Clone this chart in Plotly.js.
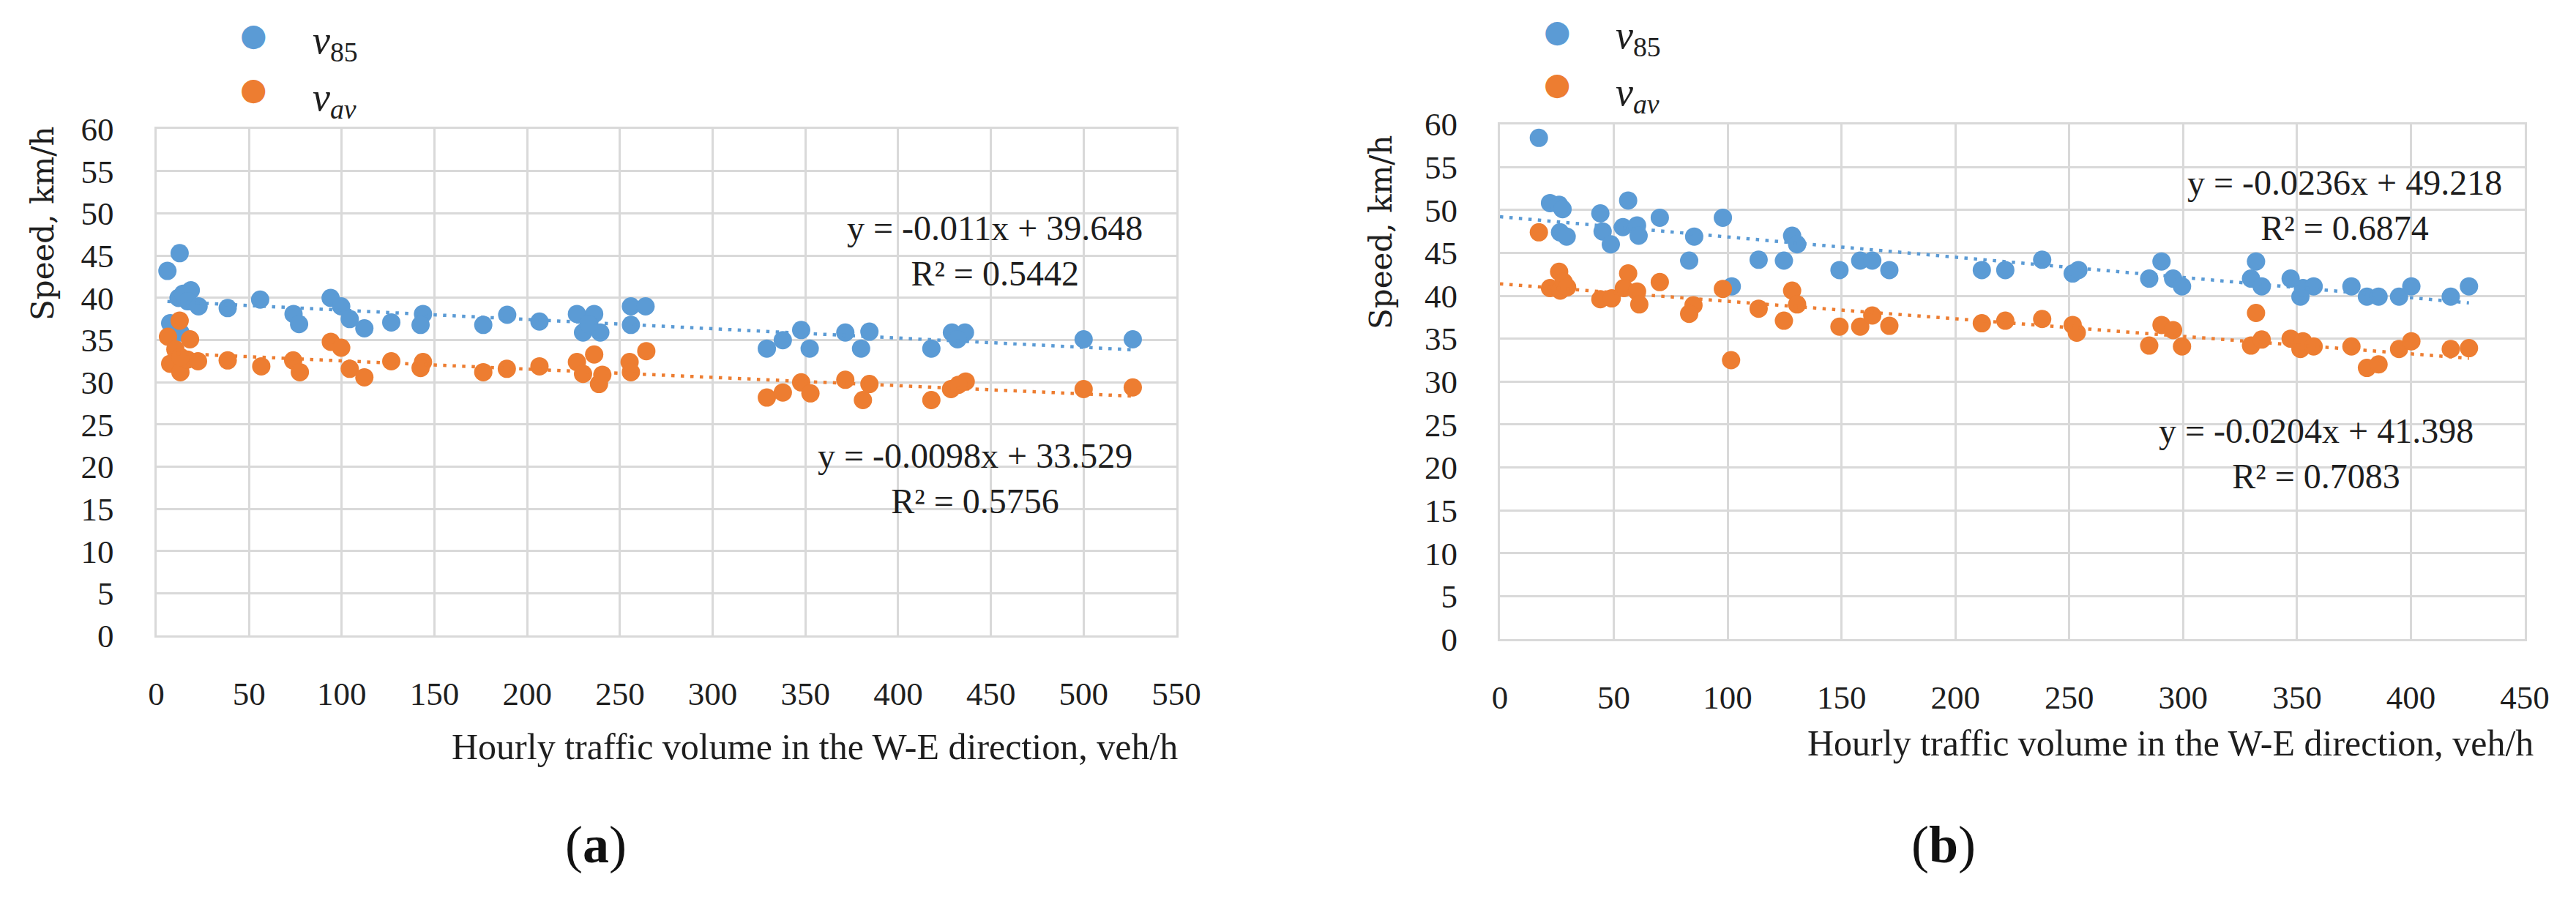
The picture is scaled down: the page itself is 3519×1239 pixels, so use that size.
<!DOCTYPE html>
<html>
<head>
<meta charset="utf-8">
<script src="https://cdn.plot.ly/plotly-3.0.1.min.js"></script>
<style>
  html, body { margin: 0; padding: 0; background: #fff; }
  #chart { width: 3519px; height: 1239px; }
</style>
</head>
<body>
<div id="chart"></div>
<script>
// (a) hourly volume W-E vs speed
const aV85X = [6, 12.6, 7.5, 13, 12, 14.5, 18.6, 17, 22.8, 38.5, 56, 74, 77, 94, 99.7, 104.3, 112.2, 126.7, 143.8, 142.5,
  176.3, 189.2, 206.6, 226.8, 236.1, 230.1, 239.4, 233, 255.9, 263.8, 255.9, 329.2, 337.8, 347.7, 352.3, 371.5, 380, 384.5,
  417.9, 429, 436, 432, 500, 526.5];
const aV85Y = [43.2, 45.3, 37.0, 35.9, 40.0, 40.5, 40.9, 39.6, 39.0, 38.8, 39.8, 38.1, 36.9, 40.0, 39.0, 37.5, 36.4, 37.1, 38.1, 36.8,
  36.8, 38.0, 37.2, 38.1, 38.1, 35.9, 35.9, 36.9, 39.0, 39.0, 36.8, 34.0, 35.0, 36.2, 34.0, 35.9, 34.0, 36.0,
  34.0, 35.9, 35.9, 35.1, 35.1, 35.1];
const aVavX = [6.3, 12.6, 18.2, 7.5, 13, 16.8, 22.5, 10.3, 13, 38.5, 56.6, 73.8, 77.4, 94.1, 99.7, 104.3, 112.2, 126.7, 143.8, 142.5,
  176.3, 189, 206.6, 226.8, 236.1, 230.1, 238.7, 240.5, 255.2, 264.2, 255.9, 329.2, 337.8, 347.7, 352.7, 371.5, 381, 384.5,
  417.9, 428.5, 436.4, 432.5, 500, 526.5];
const aVavY = [35.4, 37.3, 35.1, 32.2, 31.2, 32.7, 32.5, 33.9, 33.0, 32.6, 31.9, 32.6, 31.2, 34.8, 34.1, 31.6, 30.6, 32.5, 32.4, 31.7,
  31.2, 31.6, 31.9, 32.4, 33.3, 31.0, 29.8, 30.9, 32.4, 33.7, 31.2, 28.2, 28.8, 30.0, 28.7, 30.3, 27.9, 29.8,
  27.9, 29.2, 30.1, 29.7, 29.2, 29.4];

// (b)
const bV85X = [17.1, 22, 26, 27.5, 26.4, 29.3, 44.1, 45.1, 48.7, 54, 56.3, 60.2, 60.9, 70.2, 85.3, 83.1, 97.9, 101.8, 113.6, 124.7,
  128.3, 130.5, 149.1, 158.2, 163.5, 171, 211.6, 221.9, 238.1, 251.5, 254, 285.1, 290.5, 295.6, 299.5, 329.8, 332, 334.5,
  347.2, 351.5, 352.6, 357.3, 373.9, 380.7, 385.8, 394.8, 400.2, 417.5, 425.5];
const bV85Y = [58.4, 50.8, 50.6, 50.1, 47.4, 46.9, 49.6, 47.5, 46.0, 48.0, 51.1, 48.2, 47.0, 49.1, 46.9, 44.1, 49.1, 41.1, 44.2, 44.1,
  47.0, 46.0, 43.0, 44.1, 44.1, 43.0, 43.0, 43.0, 44.2, 42.6, 43.0, 42.0, 44.0, 42.0, 41.1, 42.0, 44.0, 41.1,
  42.0, 39.9, 40.9, 41.1, 41.1, 39.9, 39.9, 39.9, 41.1, 39.9, 41.1];
const bVavX = [17.1, 22, 26, 26.5, 28, 29.5, 44.1, 49.1, 56.3, 54.4, 60.2, 61.2, 70.2, 85, 83.1, 97.9, 101.5, 113.6, 124.7,
  128.3, 130.5, 149.1, 158.2, 163.5, 171, 211.6, 221.9, 238.1, 251.5, 253.3, 285.1, 290.5, 295.6, 299.5, 329.8, 332, 334.5,
  347.2, 351.5, 352.6, 357.3, 373.9, 380.7, 385.8, 394.8, 400.2, 417.5, 425.5];
const bVavY = [47.4, 40.9, 42.8, 40.6, 41.6, 41.0, 39.6, 39.7, 42.6, 40.9, 40.5, 39.0, 41.6, 38.9, 37.9, 40.8, 32.5, 38.5, 37.1,
  40.6, 39.0, 36.4, 36.4, 37.7, 36.5, 36.8, 37.1, 37.3, 36.6, 35.7, 34.2, 36.6, 36.0, 34.1, 34.2, 38.0, 34.9,
  35.0, 33.8, 34.7, 34.1, 34.1, 31.6, 32.0, 33.8, 34.7, 33.8, 33.9];

// linear trends (slope, intercept) and x span of the trend lines
const aTrendV85 = [-0.011, 39.648];
const aTrendVav = [-0.0098, 33.529];
const bTrendV85 = [-0.0236, 49.218];
const bTrendVav = [-0.0204, 41.398];
const aTrendSpan = [6, 526.5];
const bTrendSpan = [0, 425.5];

const aEqV85 = 'y = -0.011x + 39.648<br>R² = 0.5442';
const aEqVav = 'y = -0.0098x + 33.529<br>R² = 0.5756';
const bEqV85 = 'y = -0.0236x + 49.218<br>R² = 0.6874';
const bEqVav = 'y = -0.0204x + 41.398<br>R² = 0.7083';

const xTitle = 'Hourly traffic volume in the W-E direction, veh/h';
const yTitle = 'Speed, km/h';

const blue = '#5b9bd5';
const orange = '#ed7d31';
const W = 3519, H = 1239;
const serif = 'Liberation Serif';

// pixel -> paper helpers
const px = x => x / W;
const py = y => 1 - y / H;

function points(x, y, color, xa, ya) {
  return { x, y, xaxis: xa, yaxis: ya, type: 'scatter', mode: 'markers',
    marker: { color, size: 25, line: { width: 0 } }, hoverinfo: 'x+y' };
}

function trend(coef, span, color, xa, ya) {
  const xs = span.slice();
  const ys = xs.map(v => coef[0] * v + coef[1]);
  return { x: xs, y: ys, xaxis: xa, yaxis: ya, type: 'scatter', mode: 'lines',
    line: { color, width: 4.5, dash: '4.5px,8.5px' }, hoverinfo: 'skip' };
}

const data = [
  points(aV85X, aV85Y, blue, 'x', 'y'),
  points(aVavX, aVavY, orange, 'x', 'y'),
  trend(aTrendV85, aTrendSpan, blue, 'x', 'y'),
  trend(aTrendVav, aTrendSpan, orange, 'x', 'y'),
  points(bV85X, bV85Y, blue, 'x2', 'y2'),
  points(bVavX, bVavY, orange, 'x2', 'y2'),
  trend(bTrendV85, bTrendSpan, blue, 'x2', 'y2'),
  trend(bTrendVav, bTrendSpan, orange, 'x2', 'y2'),
];

const grid = '#d9d9d9';
function axis(extra) {
  return Object.assign({
    showgrid: true, gridcolor: grid, gridwidth: 3,
    zeroline: false, showline: true, linecolor: grid, linewidth: 3, mirror: true,
    ticks: '', tickfont: { family: serif, size: 45, color: '#1e1e1e' },
    fixedrange: true,
  }, extra);
}

function text(t, x, y, opts) {
  return Object.assign({ text: t, x, y, xref: 'paper', yref: 'paper', showarrow: false,
    xanchor: 'center', yanchor: 'middle', font: { family: serif, size: 50, color: '#1e1e1e' } }, opts || {});
}

const eqFont = { family: serif, size: 48, color: '#1e1e1e' };
const yTitleFont = { family: 'DejaVu Serif', size: 42, color: '#1e1e1e' };
const dotFont = c => ({ family: 'DejaVu Sans', size: 42, color: c });
const legFont = { family: serif, size: 54, color: '#1e1e1e' };
const panelFont = { family: serif, size: 72, color: '#111' };

const annotations = [
  // trend equations
  text(aEqV85, 452, 45.6, { xref: 'x', yref: 'y', font: eqFont }),
  text(aEqVav, 441.6, 18.6, { xref: 'x', yref: 'y', font: eqFont }),
  text(bEqV85, 371, 50.5, { xref: 'x2', yref: 'y2', font: eqFont }),
  text(bEqVav, 358.5, 21.6, { xref: 'x2', yref: 'y2', font: eqFont }),
  // axis titles
  text(xTitle, px(1611), py(1020), { xanchor: 'right' }),
  text(xTitle, px(3463), py(1015), { xanchor: 'right' }),
  text(yTitle, px(58), py(306), { textangle: -90, font: yTitleFont }),
  text(yTitle, px(1886), py(318), { textangle: -90, font: yTitleFont }),
  // panel labels
  text('(<b>a</b>)', px(814), py(1154), { font: panelFont }),
  text('(<b>b</b>)', px(2655), py(1154), { font: panelFont }),
  // legends
  text('●', px(346), py(48), { font: dotFont(blue) }),
  text('●', px(346), py(121), { font: dotFont(orange) }),
  text('<i>v</i><sub>85</sub>', px(425), py(58), { xanchor: 'left', font: legFont }),
  text('<i>v<sub>av</sub></i>', px(425), py(136), { xanchor: 'left', font: legFont }),
  text('●', px(2127), py(42), { font: dotFont(blue) }),
  text('●', px(2127), py(115), { font: dotFont(orange) }),
  text('<i>v</i><sub>85</sub>', px(2205), py(52), { xanchor: 'left', font: legFont }),
  text('<i>v<sub>av</sub></i>', px(2205), py(130), { xanchor: 'left', font: legFont }),
];

const layout = {
  width: W, height: H,
  margin: { l: 0, r: 0, t: 0, b: 0 },
  paper_bgcolor: '#fff', plot_bgcolor: '#fff',
  showlegend: false,
  font: { family: serif, color: '#1e1e1e' },
  xaxis: axis({ domain: [px(213.5), px(1607)], range: [0, 550], tick0: 0, dtick: 50, anchor: 'y', ticklabelstandoff: 38 }),
  yaxis: axis({ domain: [py(868.3), py(176.3)], range: [0, 60], tick0: 0, dtick: 5, anchor: 'x', ticklabelstandoff: 46 }),
  xaxis2: axis({ domain: [px(2049), px(3449)], range: [0, 450], tick0: 0, dtick: 50, anchor: 'y2', ticklabelstandoff: 38 }),
  yaxis2: axis({ domain: [py(873), py(169.6)], range: [0, 60], tick0: 0, dtick: 5, anchor: 'x2', ticklabelstandoff: 46 }),
  annotations,
};

Plotly.newPlot('chart', data, layout, { staticPlot: true, displayModeBar: false });
</script>
</body>
</html>
